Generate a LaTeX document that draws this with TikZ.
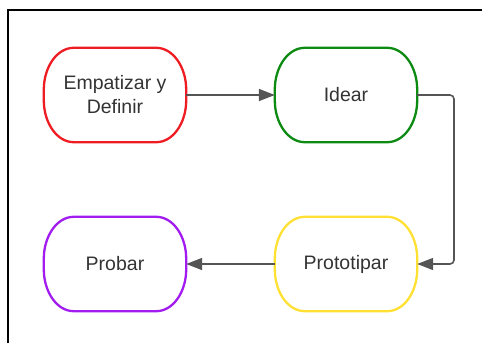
\documentclass[tikz,border=0pt]{standalone}
\usepackage{fontspec}
\setmainfont{Liberation Sans}
\usetikzlibrary{arrows.meta}
\definecolor{cred}{HTML}{EE1C23}
\definecolor{cgreen}{HTML}{0C8A12}
\definecolor{cyellow}{HTML}{FFE033}
\definecolor{cpurple}{HTML}{A21CF0}
\definecolor{cline}{HTML}{555555}
\definecolor{ctext}{HTML}{333333}
\tikzset{
  x=1pt, y=-1pt,
  boxnode/.style={minimum width=142pt, minimum height=94pt, inner sep=0pt,
    align=center, text=ctext, font=\fontsize{19.5}{24}\selectfont},
  conn/.style={draw=cline, line width=1.6pt, -{Triangle[length=16pt,width=12pt]}}
}
% draw rounded box with elliptical corners around a named node
\newcommand{\rbox}[2]{%
  \draw[#2, line width=2.3pt]
    ([xshift=30pt]#1.north west) -- ([xshift=-30pt]#1.north east)
    arc[start angle=90, end angle=0, x radius=30pt, y radius=42pt]
    -- ([yshift=42pt]#1.south east)
    arc[start angle=0, end angle=-90, x radius=30pt, y radius=42pt]
    -- ([xshift=30pt]#1.south west)
    arc[start angle=270, end angle=180, x radius=30pt, y radius=42pt]
    -- ([yshift=-42pt]#1.north west)
    arc[start angle=180, end angle=90, x radius=30pt, y radius=42pt] -- cycle;}
\begin{document}
\begin{tikzpicture}
\useasboundingbox (0,0) rectangle (482,343);
\draw[line width=2pt] (8,343) -- (8,10) -- (482,10);
\node[boxnode] (emp) at (115,95) {Empatizar y\\Definir};
\node[boxnode] (ide) at (346,95) {Idear};
\node[boxnode] (pro) at (115,264) {Probar};
\node[boxnode] (pto) at (346,264) {Prototipar};
\rbox{emp}{cred}
\rbox{ide}{cgreen}
\rbox{pro}{cpurple}
\rbox{pto}{cyellow}
\coordinate (c1) at (454,95);
\coordinate (c2) at (454,264);
\draw[conn] (emp.east) -- (ide.west);
\draw[conn, rounded corners=4pt] (ide.east) -- (c1) -- (c2) -- (pto.east);
\draw[conn] (pto.west) -- (pro.east);
\end{tikzpicture}
\end{document}
